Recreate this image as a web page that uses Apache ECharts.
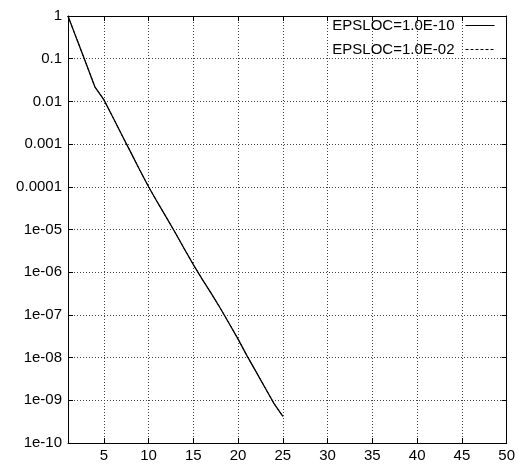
<!DOCTYPE html>
<html>
<head>
<meta charset="utf-8">
<script src="https://cdn.jsdelivr.net/npm/echarts@6/dist/echarts.min.js"></script>
<style>html,body{margin:0;padding:0;background:#fff;}#c{width:518px;height:468px;}</style>
</head>
<body>
<div id="c"></div>
<script>
const xValues = [1,2,3,4,5,6,7,8,9,10,11,12,13,14,15,16,17,18,19,20,21,22,23,24,25];
const seriesA = [1,0.28,0.079,0.022,0.011,0.0043,0.00166,6.5e-4,2.5e-4,1e-4,4.3e-5,1.9e-5,8.3e-6,3.5e-6,1.5e-6,6.8e-7,3.2e-7,1.45e-7,6.3e-8,2.7e-8,1.1e-8,4.7e-9,2.0e-9,8.5e-10,4.2e-10];
const seriesB = [1,0.28,0.079,0.022,0.011,0.0043,0.00166,6.5e-4,2.5e-4,1e-4,4.3e-5,1.9e-5,8.3e-6,3.5e-6,1.5e-6,6.8e-7,3.2e-7,1.45e-7,6.3e-8,2.7e-8,1.1e-8,4.7e-9,2.0e-9,8.5e-10,4.2e-10];
const seriesNames = ['EPSLOC=1.0E-10','EPSLOC=1.0E-02'];
const yTickLabels = ['1','0.1','0.01','0.001','0.0001','1e-05','1e-06','1e-07','1e-08','1e-09','1e-10'];
const xTicks = [5,10,15,20,25,30,35,40,45,50];

const font = 'Liberation Sans, Arial, sans-serif';
const chart = echarts.init(document.getElementById('c'), null, {renderer:'canvas'});
const splitStyle = {show:true, lineStyle:{color:'#444', width:1, type:[1,2]}};
function yLab(v){
  const e = Math.round(-Math.log10(v));
  return (e>=0 && e<yTickLabels.length) ? yTickLabels[e] : '';
}
const axLine = {show:true, onZero:false, lineStyle:{color:'#000', width:1}};
const axTickX = {show:true, inside:true, length:5, lineStyle:{color:'#000'}, customValues:xTicks};
const axTickY = {show:true, inside:true, length:5, lineStyle:{color:'#000'}};
chart.setOption({
  animation:false,
  backgroundColor:'#fff',
  grid: {left:68, right:11, top:16, bottom:25, containLabel:false},
  legend: {
    data: seriesNames,
    orient:'vertical',
    right:18, top:13,
    align:'right',
    itemWidth:29, itemHeight:14, itemGap:9,
    itemStyle:{opacity:0},
    lineStyle:{width:1},
    textStyle:{fontFamily:font, fontSize:15, color:'#000', padding:[0,6,0,0]},
    backgroundColor:'transparent'
  },
  xAxis: [{
    type:'value', min:1, max:50,
    axisLine:axLine, axisTick:axTickX,
    axisLabel:{fontFamily:font, fontSize:15, color:'#000', margin:5, customValues:xTicks},
    splitLine: splitStyle
  },{
    type:'value', min:1, max:50, position:'top',
    axisLine:axLine, axisTick:axTickX,
    axisLabel:{show:false, customValues:xTicks}, splitLine:{show:false}
  }],
  yAxis: [{
    type:'log', logBase:10, min:1e-10, max:1, interval:1,
    axisLine:axLine, axisTick:axTickY,
    axisLabel:{fontFamily:font, fontSize:15, color:'#000', margin:6, formatter:yLab},
    splitLine: splitStyle
  },{
    type:'log', logBase:10, min:1e-10, max:1, interval:1, position:'right',
    axisLine:axLine, axisTick:axTickY,
    axisLabel:{show:false}, splitLine:{show:false}
  }],
  series: [{
    name: seriesNames[0], type:'line', symbol:'none',
    data: xValues.map((x,i)=>[x, seriesA[i]]),
    lineStyle:{color:'#000', width:1.3, type:'solid'},
    itemStyle:{color:'#000'}
  },{
    name: seriesNames[1], type:'line', symbol:'none',
    data: xValues.map((x,i)=>[x, seriesB[i]]),
    lineStyle:{color:'#000', width:1, type:[3,2]},
    itemStyle:{color:'#000'}
  }]
});
</script>
</body>
</html>
